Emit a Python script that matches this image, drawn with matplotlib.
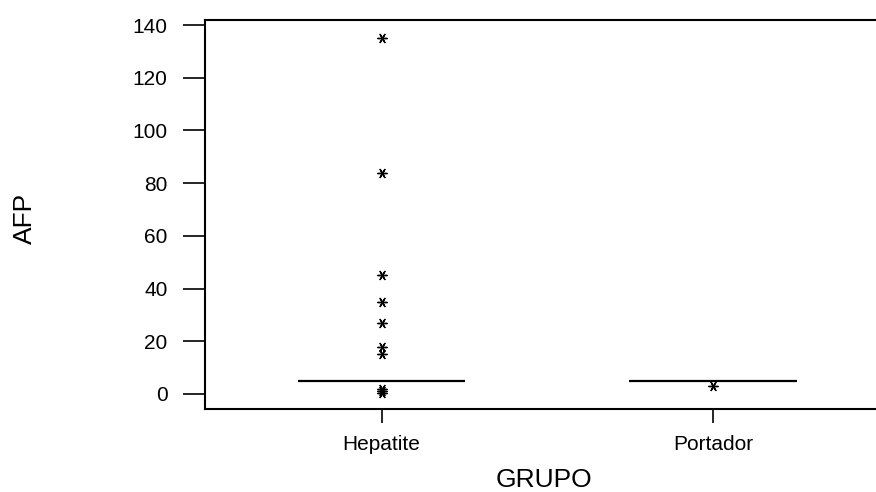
import matplotlib.pyplot as plt

# Groups and the values
groups = ["Hepatite", "Portador"]
medians = [5.0, 5.0]
hepatite_points = [135, 84, 45, 35, 27, 18, 15, 1.8, 1.0, 0.3]
portador_points = [3.1]

plt.rcParams["font.family"] = ["Liberation Sans", "DejaVu Sans"]

fig = plt.figure(figsize=(8.76, 4.92), dpi=100)
ax = fig.add_axes([205 / 876, 1 - 409 / 492, 1 - 205 / 876 + 0.01, (409 - 20) / 492])

positions = [1, 2]
half = 0.252
for pos, med in zip(positions, medians):
    ax.hlines(med, pos - half, pos + half, color="black", lw=1.6)

# Minitab-style asterisk marker for outliers
asterisk = (6, 2, 90)
ax.scatter([1] * len(hepatite_points), hepatite_points, marker=asterisk,
           s=45, color="black", linewidths=1.0)
ax.scatter([2] * len(portador_points), portador_points, marker=asterisk,
           s=45, color="black", linewidths=1.0)

ax.set_xlim(0.4676, 2.518)
ax.set_ylim(-5.7, 141.9)
ax.set_xticks(positions)
ax.set_xticklabels(groups)
ax.set_yticks(range(0, 141, 20))

ax.spines["right"].set_visible(False)
for side in ["left", "top", "bottom"]:
    ax.spines[side].set_linewidth(1.5)

ax.tick_params(axis="y", length=16, width=1.2, pad=11, labelsize=15)
ax.tick_params(axis="x", length=10, width=1.2, pad=9, labelsize=15)

fig.text(544 / 876, 1 - 480 / 492, "GRUPO", ha="center", va="center", fontsize=19)
fig.text(25 / 876, 1 - 218 / 492, "AFP", ha="center", va="center",
         rotation=90, fontsize=19)

fig.savefig("out.png", dpi=100)
